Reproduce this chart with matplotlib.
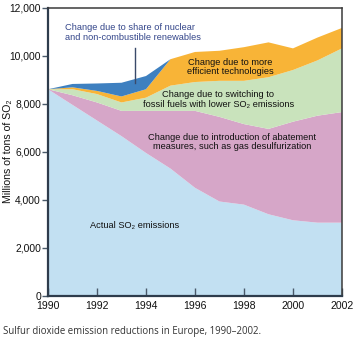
import matplotlib
matplotlib.use("Agg")
import matplotlib.pyplot as plt

# values (millions of tons of SO2)
years = [1990, 1991, 1992, 1993, 1994, 1995, 1996, 1997, 1998, 1999, 2000, 2001, 2002]
actual = [8600, 7950, 7300, 6650, 5950, 5300, 4500, 3930, 3800, 3400, 3150, 3050, 3050]
abatement = [0, 400, 750, 1050, 1750, 2400, 3200, 3520, 3350, 3550, 4100, 4450, 4600]
fuel_switch = [0, 250, 350, 350, 550, 1050, 1200, 1500, 1800, 2150, 2150, 2300, 2650]
efficiency = [0, 80, 130, 250, 350, 1100, 1250, 1250, 1400, 1450, 900, 950, 850]
nuclear = [0, 140, 310, 570, 550, 0, 0, 0, 0, 0, 0, 0, 0]

y_ticks = [0, 2000, 4000, 6000, 8000, 10000, 12000]
x_ticks = [1990, 1992, 1994, 1996, 1998, 2000, 2002]

colors = ["#c2e0f2", "#d6a6c8", "#c9e3bc", "#f8b437", "#3e80c0"]

plt.rcParams["font.family"] = ["Liberation Sans", "DejaVu Sans"]

fig = plt.figure(figsize=(3.6, 3.41), dpi=100)
ax = fig.add_axes([0.1333, 0.132, 0.8167, 0.846])

ax.stackplot(years, actual, abatement, fuel_switch, efficiency, nuclear,
             colors=colors, linewidth=0)

ax.set_xlim(1990, 2002)
ax.set_ylim(0, 12000)
ax.set_xticks(x_ticks)
ax.set_yticks(y_ticks)
ax.set_yticklabels([f"{v:,}" for v in y_ticks])
ax.tick_params(axis="y", direction="out", length=4, width=1, color="#4a5a6a",
               labelsize=7.4, pad=1, labelcolor="#111111")
ax.tick_params(axis="x", direction="in", length=6, width=1, color="#4a5a6a",
               labelsize=7.6, pad=3.5, labelcolor="#111111")
for s in ["left", "bottom"]:
    ax.spines[s].set_linewidth(1.6)
    ax.spines[s].set_color("#2e3c4c")
for s in ["top", "right"]:
    ax.spines[s].set_linewidth(1.1)
    ax.spines[s].set_color("#3a3a3a")

ax.set_ylabel("Millions of tons of SO₂", fontsize=7.6, color="#111111")
ax.yaxis.set_label_coords(-0.118, 0.5)

# annotations
fs = 6.7
ax.text(1990.69, 10966, "Change due to share of nuclear\nand non-combustible renewables",
        fontsize=fs, color="#34468a", ha="left", va="center", linespacing=1.05)
ax.plot([1993.55, 1993.55], [10300, 8850], color="#3a4a6a", lw=1)
ax.text(1997.43, 9517, "Change due to more\nefficient technologies",
        fontsize=fs, color="#111111", ha="center", va="center", linespacing=1.05)
ax.text(1996.95, 8173, "Change due to switching to\nfossil fuels with lower SO₂ emissions",
        fontsize=fs, color="#111111", ha="center", va="center", linespacing=1.05)
ax.text(1997.53, 6393, "Change due to introduction of abatement\nmeasures, such as gas desulfurization",
        fontsize=fs, color="#111111", ha="center", va="center", linespacing=1.05)
ax.text(1993.54, 2938, "Actual SO₂ emissions",
        fontsize=fs, color="#111111", ha="center", va="center")

fig.text(0.008, 0.028, "Sulfur dioxide emission reductions in Europe, 1990–2002.",
         fontsize=6.95, color="#333333", family=["Open Sans", "DejaVu Sans"],
         ha="left", va="center")

fig.savefig("out.png", dpi=100)
